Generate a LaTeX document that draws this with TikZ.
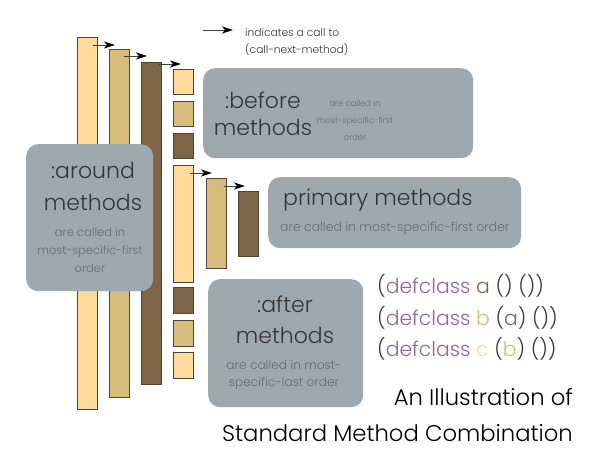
\documentclass[tikz,border=0pt]{standalone}
\usepackage{fontspec}
\IfFontExistsTF{Poppins Light}{\setmainfont{Poppins Light}}{\setmainfont{Poppins}}
\usetikzlibrary{arrows.meta,calc}
\definecolor{cL}{HTML}{FDD99A}
\definecolor{cT}{HTML}{D8BC7B}
\definecolor{cB}{HTML}{7E6548}
\definecolor{outl}{HTML}{4E4538}
\definecolor{boxc}{HTML}{9DA9AF}
\definecolor{big}{HTML}{353535}
\definecolor{small}{HTML}{666B6E}
\definecolor{purp}{HTML}{8C6A90}
\definecolor{paren}{HTML}{3A3A3A}
\tikzset{
  bar/.style={draw=outl, line width=0.7pt, inner sep=0pt, anchor=north west},
  gbox/.style={fill=boxc, rounded corners=12pt, inner sep=0pt, anchor=north west},
  bigtxt/.style={text=big, font=\fontsize{22}{22}\selectfont, inner sep=0pt},
  smalltxt/.style={text=small, font=\fontsize{12}{17.5}\selectfont, inner sep=0pt, align=center},
  calltip/.style={draw=black!75, line width=0.8pt, -{Stealth[length=11pt,width=7pt,inset=3pt,black]}},
  codetxt/.style={text=paren, font=\fontsize{20.4}{20.4}\selectfont, inner sep=0pt, anchor=west},
  titletxt/.style={text=black, font=\fontsize{22.7}{22.7}\selectfont, inner sep=0pt, anchor=east},
}
\begin{document}
\begin{tikzpicture}[x=1pt,y=-1pt]
\useasboundingbox (0,0) rectangle (600,463);
% tall bars
\node[bar, fill=cL, minimum width=20, minimum height=372] (b1) at (77,37) {};
\node[bar, fill=cT, minimum width=20, minimum height=348] (b2) at (109,49) {};
\node[bar, fill=cB, minimum width=20, minimum height=322] (b3) at (141,62) {};
% before squares
\node[bar, fill=cL, minimum width=20, minimum height=25] (s1) at (173,69) {};
\node[bar, fill=cT, minimum width=20, minimum height=25] (s2) at (173,101) {};
\node[bar, fill=cB, minimum width=20, minimum height=25] (s3) at (173,133) {};
% primary bars
\node[bar, fill=cL, minimum width=20, minimum height=117] (p1) at (173,165) {};
\node[bar, fill=cT, minimum width=20, minimum height=90] (p2) at (206,178) {};
\node[bar, fill=cB, minimum width=20, minimum height=65] (p3) at (238,191) {};
% after squares
\node[bar, fill=cB, minimum width=20, minimum height=26] (a1) at (173,287) {};
\node[bar, fill=cT, minimum width=20, minimum height=26] (a2) at (173,320) {};
\node[bar, fill=cL, minimum width=20, minimum height=26] (a3) at (173,352) {};
% arrows
\draw[calltip] ($(b1.north east)+(-5,8)$) coordinate (c1) -- ($(b2.north west)+(6,-4)$);
\draw[calltip] ($(b2.north east)+(-6,7)$) coordinate (c2) -- ($(b3.north west)+(6,-6)$);
\draw[calltip] ($(b3.north east)+(-3,2)$) coordinate (c3) -- ($(s1.north west)+(8,-5)$);
\draw[calltip] ($(p1.north east)+(-4,8)$) coordinate (c4) -- ($(p2.north west)+(6,-5)$);
\draw[calltip] ($(p2.north east)+(-3,8)$) coordinate (c5) -- ($(p3.north west)+(7,-5)$);
% legend
\coordinate (l1) at (203,30);
\coordinate (l2) at (233,30);
\draw[calltip] (l1) -- (l2);
\node[text=big, font=\fontsize{10.7}{10.7}\selectfont, inner sep=0pt, anchor=west] (leg1) at (245,33) {indicates a call to};
\node[text=big, font=\fontsize{10.7}{10.7}\selectfont, inner sep=0pt, anchor=west] (leg2) at (245,49) {(call-next-method)};
% before box
\node[gbox, minimum width=270, minimum height=90] (bbox) at (203,68) {};
\node[bigtxt] (bt1) at (263,100) {:before};
\node[bigtxt] (bt2) at (263,127) {methods};
\node[smalltxt, font=\fontsize{8.3}{17}\selectfont] (bt3) at (355,120) {are called in\\most-specific-first\\order};
% around box
\node[gbox, minimum width=127, minimum height=147] (rbox) at (26,144) {};
\node[bigtxt] (rt1) at (93,170) {:around};
\node[bigtxt] (rt2) at (93,202) {methods};
\node[smalltxt, font=\fontsize{11.5}{18}\selectfont] (rt3) at (90,250) {are called in\\most-specific-first\\order};
% primary box
\node[gbox, minimum width=253, minimum height=71] (pbox) at (268,177) {};
\node[bigtxt, anchor=west] (pt1) at (283,200) {primary methods};
\node[smalltxt, font=\fontsize{12.4}{12.4}\selectfont, anchor=west] (pt2) at (280,228) {are called in most-specific-first order};
% after box
\node[gbox, minimum width=155, minimum height=128] (abox) at (208,279) {};
\node[bigtxt] (at1) at (285,304) {:after};
\node[bigtxt] (at2) at (285,335) {methods};
\node[smalltxt, font=\fontsize{12.2}{17.5}\selectfont] (at3) at (284,375) {are called in most-\\specific-last order};
% code
\node[codetxt] (d1) at (377,286) {(\textcolor{purp}{defclass} \textcolor{cB}{a} () ())};
\node[codetxt] (d2) at (377,318) {(\textcolor{purp}{defclass} \textcolor{cT}{b} (\textcolor{cB}{a}) ())};
\node[codetxt] (d3) at (377,349) {(\textcolor{purp}{defclass} \textcolor{cL}{c} (\textcolor{cT}{b}) ())};
% title
\node[titletxt] (t1) at (573,397) {An Illustration of};
\node[titletxt] (t2) at (573,433) {Standard Method Combination};
\end{tikzpicture}
\end{document}
